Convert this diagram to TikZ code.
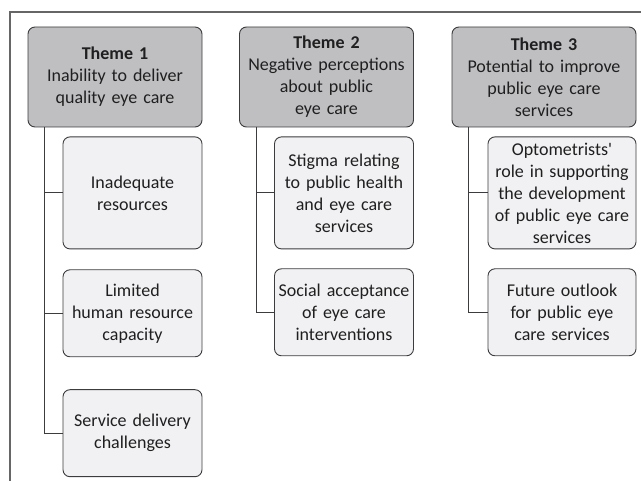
\documentclass[tikz,border=0pt]{standalone}
\usepackage{fontspec}
\setmainfont{Carlito}
\usetikzlibrary{positioning,calc}
\definecolor{themegray}{RGB}{191,191,194}
\definecolor{subgray}{RGB}{241,241,243}
\definecolor{edgegray}{RGB}{60,60,62}
\tikzset{main base/.style={draw=edgegray,line width=0.9pt,text centered,align=center,inner sep=1pt,text=black!88,font=\fontsize{18}{22}\selectfont}, }
\tikzset{main node/.style={rectangle,rounded corners=7pt,main base}, }
\tikzset{theme node/.style={main node,fill=themegray,minimum height=100pt}, }
\tikzset{sub node/.style={main node,fill=subgray}, }
\tikzset{linea/.style={draw=edgegray,line width=0.9pt}}

\begin{document}
\begin{tikzpicture}[x=1pt,y=1pt]
\useasboundingbox (0,0) rectangle (641,-481);
% frame
\draw[black!60,line width=1.2pt] (10,-481) -- (10,-12) -- (641,-12);

\node[theme node,minimum width=174pt,text width=172pt] (t1) at (115,-77) {\textbf{Theme 1}\\Inability to deliver\\quality eye care};
\node[theme node,minimum width=174pt,text width=172pt] (t2) at (326.5,-77) {\textbf{Theme 2}\\Negative perceptions\\about public\\eye care};
\node[theme node,minimum width=184pt,text width=182pt] (t3) at (544,-77) {\textbf{Theme 3}\\Potential to improve\\public eye care\\services};

\node[sub node,minimum width=139pt,text width=137pt,minimum height=112pt,below=9pt of t1.south east,anchor=north east] (s11) {Inadequate\\resources};
\node[sub node,minimum width=139pt,text width=137pt,minimum height=87pt,below=20pt of s11.south east,anchor=north east] (s12) {Limited\\human resource\\capacity};
\node[sub node,minimum width=139pt,text width=137pt,minimum height=87pt,below=32pt of s12.south east,anchor=north east] (s13) {Service delivery\\challenges};

\node[sub node,minimum width=139pt,text width=137pt,minimum height=112pt,below=9pt of t2.south east,anchor=north east] (s21) {Stigma relating\\to public health\\and eye care\\services};
\node[sub node,minimum width=139pt,text width=137pt,minimum height=87pt,below=19pt of s21.south east,anchor=north east] (s22) {Social acceptance\\of eye care\\interventions};

\node[sub node,minimum width=148pt,text width=146pt,minimum height=112pt,below=9pt of t3.south east,anchor=north east] (s31) {Optometrists\textquotesingle\\role in supporting\\the development\\of public eye care\\services};
\node[sub node,minimum width=148pt,text width=146pt,minimum height=87pt,below=19pt of s31.south east,anchor=north east] (s32) {Future outlook\\for public eye\\care services};

\foreach \x/\y in {t1/s11,t1/s12,t1/s13,t2/s21,t2/s22,t3/s31,t3/s32}
  \path[linea] ($(\x.south west)+(17,0)$) |- (\y.west);
\end{tikzpicture}
\end{document}
